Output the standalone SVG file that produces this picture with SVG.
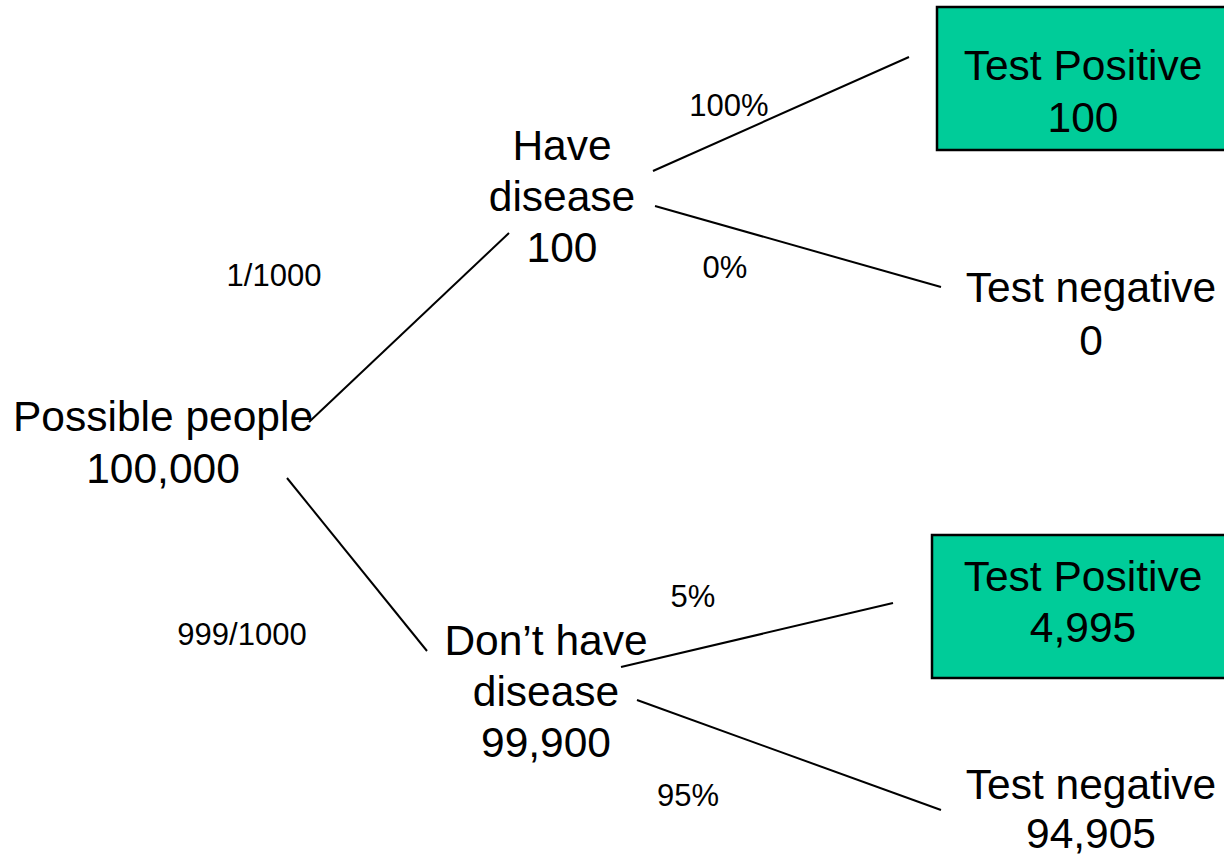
<svg xmlns="http://www.w3.org/2000/svg" width="1224" height="857" viewBox="0 0 1224 857">
  <style>
    .big { font-family: "Liberation Sans", Arial, sans-serif; font-size: 42.5px; fill: #000; text-anchor: middle; }
    .small { font-family: "Liberation Sans", Arial, sans-serif; font-size: 31px; fill: #000; text-anchor: middle; }
    .box { fill: #00CC99; stroke: #000; stroke-width: 2.5; }
    .edge { stroke: #000; stroke-width: 2; fill: none; }
  </style>
  <rect width="1224" height="857" fill="#fff"/>

  <g id="connectors">
    <line class="edge" x1="309" y1="422" x2="509" y2="233"/>
    <line class="edge" x1="287" y1="478" x2="427" y2="651"/>
    <line class="edge" x1="653" y1="171" x2="909" y2="57"/>
    <line class="edge" x1="655" y1="206" x2="941" y2="287"/>
    <line class="edge" x1="621" y1="667" x2="893" y2="603"/>
    <line class="edge" x1="637" y1="700" x2="941" y2="810"/>
  </g>

  <g id="edge-labels">
    <text class="small" x="274" y="286">1/1000</text>
    <text class="small" x="242" y="645">999/1000</text>
    <text class="small" x="729" y="116">100%</text>
    <text class="small" x="725" y="278">0%</text>
    <text class="small" x="693" y="607">5%</text>
    <text class="small" x="688" y="806">95%</text>
  </g>

  <g id="root">
    <text class="big" x="163" y="431">Possible people</text>
    <text class="big" x="163" y="483">100,000</text>
  </g>

  <g id="have-disease">
    <text class="big" x="562" y="160">Have</text>
    <text class="big" x="562" y="211">disease</text>
    <text class="big" x="562" y="262">100</text>
  </g>

  <g id="no-disease">
    <text class="big" x="546" y="655">Don’t have</text>
    <text class="big" x="546" y="706">disease</text>
    <text class="big" x="546" y="757">99,900</text>
  </g>

  <g id="true-positive">
    <rect class="box" x="937" y="7" width="300" height="143"/>
    <text class="big" x="1083" y="80">Test Positive</text>
    <text class="big" x="1083" y="132">100</text>
  </g>

  <g id="false-negative">
    <text class="big" x="1091" y="302">Test negative</text>
    <text class="big" x="1091" y="355">0</text>
  </g>

  <g id="false-positive">
    <rect class="box" x="932" y="535" width="305" height="143"/>
    <text class="big" x="1083" y="591">Test Positive</text>
    <text class="big" x="1083" y="642">4,995</text>
  </g>

  <g id="true-negative">
    <text class="big" x="1091" y="799">Test negative</text>
    <text class="big" x="1091" y="848">94,905</text>
  </g>
</svg>
